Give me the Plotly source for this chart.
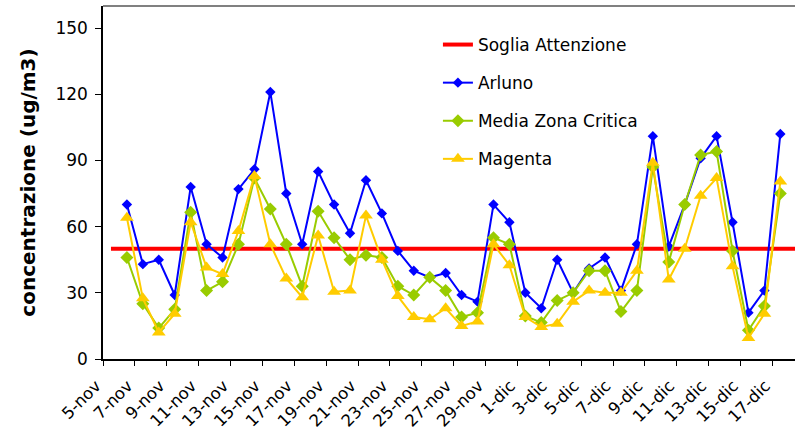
import plotly.graph_objects as go

# Categories (daily, 5-nov .. 18-dic)
categories = [
    "5-nov", "6-nov", "7-nov", "8-nov", "9-nov", "10-nov", "11-nov", "12-nov",
    "13-nov", "14-nov", "15-nov", "16-nov", "17-nov", "18-nov", "19-nov", "20-nov",
    "21-nov", "22-nov", "23-nov", "24-nov", "25-nov", "26-nov", "27-nov", "28-nov",
    "29-nov", "30-nov", "1-dic", "2-dic", "3-dic", "4-dic", "5-dic", "6-dic",
    "7-dic", "8-dic", "9-dic", "10-dic", "11-dic", "12-dic", "13-dic", "14-dic",
    "15-dic", "16-dic", "17-dic", "18-dic",
]

# Threshold series (all categories)
soglia_value = 50
soglia = [soglia_value] * len(categories)

# Measured series: 6-nov .. 17-dic
data_dates = categories[1:43]

arluno = [70, 43, 45, 29, 78, 52, 46, 77, 86, 121, 75, 52,
          85, 70, 57, 81, 66, 49, 40, 37, 39, 29, 26, 70,
          62,
          30, 23, 45, 30, 41, 46, 31, 52, 101, 51, 70, 91, 101, 62, 21, 31, 102]

media_zona_critica = [46, 25, 14, 22.5, 66.5, 31, 35, 52, 82, 68, 52, 33,
                      67, 55, 45, 47, 46, 33, 29, 37, 31, 19, 21, 55,
                      52,
                      19.5, 16.5, 26.5, 30, 40, 40, 21.5, 31, 87, 44, 70, 92.5, 94, 49, 13, 24, 75]

magenta = [64, 27.5, 12, 20.5, 62, 41.5, 38.5, 58, 83, 52, 36.5, 28,
           56, 30.5, 31, 65, 45, 28.5, 19, 18, 23, 15, 17, 52,
           42.5,
           19, 14.5, 16, 26, 31, 30, 30, 40, 89, 36, 50, 74, 82, 42, 9.5, 20.5, 80.5]

y_ticks = [0, 30, 60, 90, 120, 150]

fig = go.Figure()
fig.add_trace(go.Scatter(
    x=categories, y=soglia, name="Soglia Attenzione", mode="lines",
    line=dict(color="#FF0000", width=4), legendgroup="a"))
fig.add_trace(go.Scatter(
    x=data_dates, y=arluno, name="Arluno", mode="lines+markers",
    line=dict(color="#0000FF", width=2),
    marker=dict(symbol="diamond", size=8, color="#0000FF"), legendgroup="b"))
fig.add_trace(go.Scatter(
    x=data_dates, y=media_zona_critica, name="Media Zona Critica", mode="lines+markers",
    line=dict(color="#99CC00", width=2),
    marker=dict(symbol="diamond", size=10, color="#99CC00"), legendgroup="c"))
fig.add_trace(go.Scatter(
    x=data_dates, y=magenta, name="Magenta", mode="lines+markers",
    line=dict(color="#FFCC00", width=2),
    marker=dict(symbol="triangle-up", size=12, color="#FFCC00"), legendgroup="d"))

fig.update_layout(
    width=795, height=438,
    margin=dict(l=103, r=0, t=6, b=79),
    plot_bgcolor="white", paper_bgcolor="white",
    font=dict(family="DejaVu Sans", color="black"),
    showlegend=True,
    legend=dict(x=0.484, y=0.9405, xanchor="left", yanchor="top",
                font=dict(size=17), tracegroupgap=13,
                bgcolor="rgba(0,0,0,0)", borderwidth=0),
)
fig.update_xaxes(
    type="category", categoryorder="array", categoryarray=categories,
    range=[-0.5, 42.92], tickmode="linear", tick0=0, dtick=2,
    tickson="boundaries", ticks="outside", ticklen=5, tickcolor="black",
    showline=True, linecolor="black", linewidth=1.5,
    tickangle=-45, tickfont=dict(size=16.5), ticklabelshift=-15,
    ticklabelstandoff=9,
    showgrid=False, zeroline=False,
)
fig.update_yaxes(
    range=[0, 160], tickmode="array", tickvals=y_ticks,
    ticks="outside", ticklen=6, tickcolor="black",
    showline=True, linecolor="black", linewidth=1.5,
    showgrid=False, zeroline=False, tickfont=dict(size=17),
    ticklabelstandoff=4,
    title=dict(text="<b>concentrazione (ug/m3)</b>", font=dict(size=20), standoff=14),
)
fig.add_shape(type="line", xref="paper", yref="paper", x0=0, x1=1, y0=1, y1=1,
              line=dict(color="#808080", width=2))

fig.write_html("out.html")
